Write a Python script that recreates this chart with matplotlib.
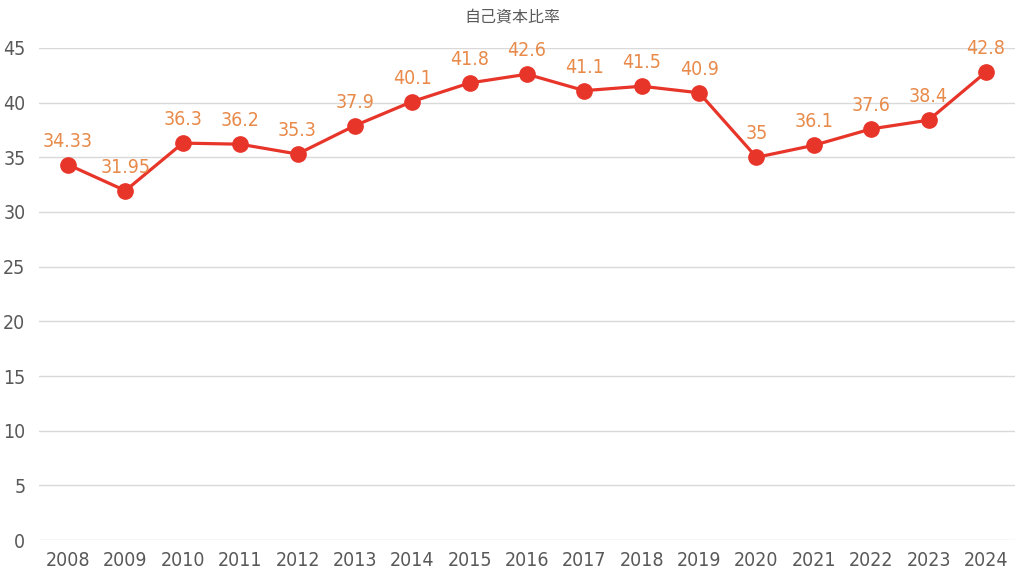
import matplotlib.pyplot as plt

years = [str(y) for y in range(2008, 2025)]
ratio = [34.33, 31.95, 36.3, 36.2, 35.3, 37.9, 40.1, 41.8, 42.6, 41.1, 41.5, 40.9, 35, 36.1, 37.6, 38.4, 42.8]
labels = ["34.33", "31.95", "36.3", "36.2", "35.3", "37.9", "40.1", "41.8", "42.6", "41.1", "41.5", "40.9", "35", "36.1", "37.6", "38.4", "42.8"]
title = "自己資本比率"

plt.rcParams['font.family'] = ['DejaVu Sans', 'Noto Sans CJK JP']
plt.rcParams['font.stretch'] = 'condensed'

text_col = "#595959"
line_col = "#E8352A"
label_col = "#E88A4A"

fig = plt.figure(figsize=(10.24, 5.78), dpi=100)
ax = fig.add_axes([0.0384, 0.0657, 0.9525, 0.8513])

x = range(len(years))
ax.plot(x, ratio, color=line_col, lw=2.3, marker='o', ms=11, zorder=3)
for xi, v, s in zip(x, ratio, labels):
    ax.annotate(s, (xi, v), xytext=(0, 10), textcoords='offset points',
                ha='center', va='bottom', color=label_col, fontsize=14,
                fontstretch='condensed')

ax.set_xlim(-0.5, len(years) - 0.5)
ax.set_ylim(0, 45)
ax.set_yticks(range(0, 46, 5))
ax.set_xticks(list(x))
ax.set_xticklabels(years, fontstretch='condensed')
ax.set_yticklabels([str(v) for v in range(0, 46, 5)], fontstretch='condensed')
ax.grid(axis='y', color='#d9d9d9', lw=1)
ax.set_axisbelow(True)
for sp in ax.spines.values():
    sp.set_visible(False)
ax.tick_params(length=0, colors=text_col, labelsize=14, pad=8)
ax.tick_params(axis='y', pad=10)

fig.text(0.5, 0.97, title, ha='center', va='center', color=text_col, fontsize=11.5,
         family=['Noto Sans CJK JP', 'DejaVu Sans'])

fig.savefig("out.png", dpi=100)
